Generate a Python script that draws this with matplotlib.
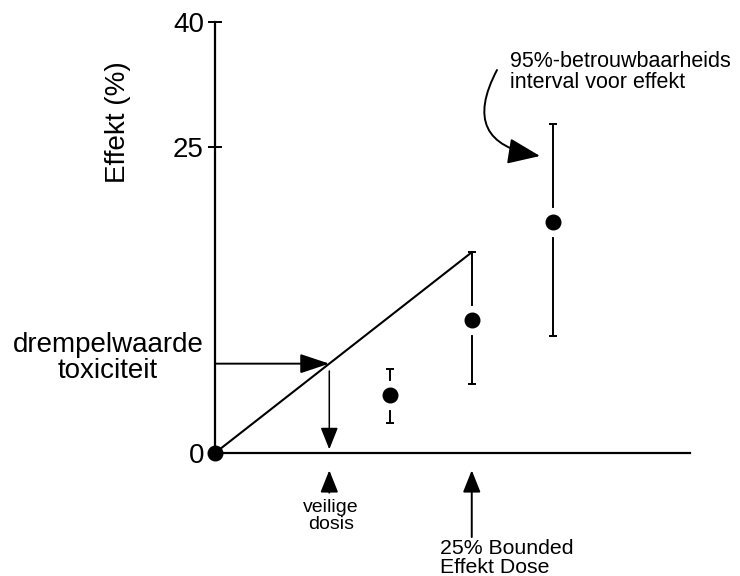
import numpy as np
import matplotlib
matplotlib.use("Agg")
import matplotlib.pyplot as plt
from matplotlib.scale import FuncScale

plt.rcParams['font.family'] = ['Liberation Sans', 'DejaVu Sans']

# ---- data (schematic) ----
y_ticks = [0, 25, 40]
y_tick_labels = ['0', '25', '40']
bed_dose = 10.0            # 25% Bounded Effect Dose
bed_effect = 16.4          # upper limit at the BED (line end)
threshold = 7.3            # drempelwaarde toxiciteit
points_x = [6.8, 10.0, 13.15]
points_y = [4.7, 10.9, 18.9]
ci_low = [2.45, 5.6, 9.6]
ci_high = [6.9, 16.4, 27.8]
x_max = 18.5
safe_dose = threshold / bed_effect * bed_dose

# compressed scale above 25 (schematic axis)
K = 0.681
def fwd(y):
    y = np.asarray(y, dtype=float)
    return np.where(y <= 25, y, 25 + (y - 25) * K)
def inv(u):
    u = np.asarray(u, dtype=float)
    return np.where(u <= 25, u, 25 + (u - 25) / K)

W, H = 740, 576
fig = plt.figure(figsize=(W / 100, H / 100), dpi=100)
ax = fig.add_axes([215 / W, (H - 453) / H, (690 - 215) / W, (453 - 22) / H])
ax.set_yscale(FuncScale(ax, (fwd, inv)))
ax.set_xlim(0, x_max)
ax.set_ylim(0, 40)

for s in ['top', 'right']:
    ax.spines[s].set_visible(False)
ax.spines['left'].set_linewidth(1.6)
ax.spines['bottom'].set_linewidth(1.6)
ax.set_xticks([])
ax.set_yticks(y_ticks)
ax.set_yticklabels(y_tick_labels, fontsize=20)
ax.tick_params(axis='y', direction='inout', length=10, width=1.4, pad=3)

# diagonal line
ax.plot([0, bed_dose], [0, bed_effect], color='black', lw=1.5, clip_on=False)

# error bars
yerr = [np.array(points_y) - np.array(ci_low), np.array(ci_high) - np.array(points_y)]
ax.errorbar(points_x, points_y, yerr=yerr, fmt='none', ecolor='black',
            elinewidth=1.4, capsize=3.2, capthick=1.4, clip_on=False, zorder=3)
# white gap around dots
ax.plot(points_x, points_y, ls='none', marker='o', ms=20, mfc='white', mec='white',
        zorder=4, clip_on=False)
ax.plot(points_x, points_y, ls='none', marker='o', ms=10.5, mfc='black', mec='black',
        zorder=5, clip_on=False)
# origin dot
ax.plot([0], [0], ls='none', marker='o', ms=10.5, mfc='black', mec='black',
        zorder=5, clip_on=False)

# threshold arrow
ax.annotate('', xy=(safe_dose, threshold), xytext=(0, threshold),
            arrowprops=dict(arrowstyle='-|>,head_length=0.9,head_width=0.3',
                            mutation_scale=20, color='black', lw=1.4,
                            shrinkA=0, shrinkB=0))
# down arrow to safe dose
ax.annotate('', xy=(safe_dose, 0.3), xytext=(safe_dose, threshold - 0.6),
            arrowprops=dict(arrowstyle='-|>,head_length=0.75,head_width=0.3',
                            mutation_scale=18, color='black', lw=1.1,
                            shrinkA=0, shrinkB=0))
# up arrows below axis
ax.annotate('', xy=(safe_dose, -0.04), xycoords=('data', 'axes fraction'),
            xytext=(safe_dose, -0.092), textcoords=('data', 'axes fraction'),
            arrowprops=dict(arrowstyle='-|>,head_length=0.75,head_width=0.3',
                            mutation_scale=18, color='black', lw=1.4,
                            shrinkA=0, shrinkB=0))
ax.annotate('', xy=(bed_dose, -0.04), xycoords=('data', 'axes fraction'),
            xytext=(bed_dose, -0.195), textcoords=('data', 'axes fraction'),
            arrowprops=dict(arrowstyle='-|>,head_length=0.75,head_width=0.3',
                            mutation_scale=18, color='black', lw=1.4,
                            shrinkA=0, shrinkB=0))

# curved arrow for CI annotation
ax.annotate('', xy=(540, H - 156), xycoords='figure pixels',
            xytext=(497, H - 70), textcoords='figure pixels',
            arrowprops=dict(arrowstyle='-|>,head_length=1.0,head_width=0.4',
                            mutation_scale=20, color='black', lw=1.4,
                            connectionstyle='arc3,rad=0.7',
                            shrinkA=0, shrinkB=0))

# texts
fig.text(118 / W, 1 - 122 / H, 'Effekt (%)', rotation=90, ha='center', va='center',
         fontsize=20)
fig.text(108 / W, 1 - 358 / H, 'drempelwaarde\ntoxiciteit', ha='center', va='center',
         fontsize=20, linespacing=0.95)
fig.text(331 / W, 1 - 516 / H, 'veilige\ndosis', ha='center', va='center',
         fontsize=14, linespacing=1.05)
fig.text(440 / W, 1 - 558 / H, '25% Bounded\nEffekt Dose', ha='left', va='center',
         fontsize=15.3, linespacing=0.95)
fig.text(510 / W, 1 - 72 / H, '95%-betrouwbaarheids\ninterval voor effekt', ha='left',
         va='center', fontsize=15.5, linespacing=0.98)

fig.savefig('out.png', dpi=100)
